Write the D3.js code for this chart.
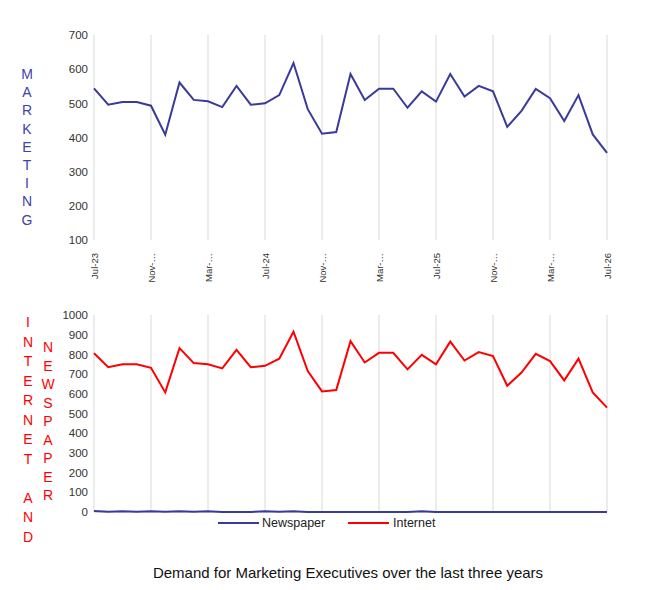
<!DOCTYPE html><html><head><meta charset="utf-8"><script src="https://cdn.jsdelivr.net/npm/d3@7"></script>
<style>body{margin:0;background:#fff;font-family:"Liberation Sans",Arial,sans-serif}</style></head><body><svg id="c" width="645" height="590"></svg>
<script>
const tickLabels=["Jul-23","Nov-…","Mar-…","Jul-24","Nov-…","Mar-…","Jul-25","Nov-…","Mar-…","Jul-26"];
const marketing=[544,496,504,504,493,408,561,510,506,489,551,496,500,524,618,483,411,416,586,510,543,543,487,535,505,586,520,551,535,431,478,542,515,448,524,409,355];
const internet=[806,735,750,750,732,607,832,756,750,729,823,735,742,778,915,715,612,619,867,759,808,808,724,798,750,865,769,812,792,641,708,803,766,668,778,607,530];
const newspaper=[5,1,4,1,4,1,4,1,4,0,0,0,4,1,4,0,0,0,0,0,0,0,0,4,0,0,0,0,0,0,0,0,0,0,0,0,0];
const svg=d3.select("#c");
const x=d3.scaleLinear().domain([0,36]).range([94,607]);
const y1=d3.scaleLinear().domain([100,700]).range([240,35]);
const y2=d3.scaleLinear().domain([0,1000]).range([512,315]);
const grid="#d9d9d9";
function panel(y,ticks,top,bot){
  svg.append("g").selectAll("line").data(d3.range(0,37,4)).join("line")
   .attr("x1",d=>x(d)).attr("x2",d=>x(d)).attr("y1",top).attr("y2",bot).attr("stroke",grid);
  svg.append("g").attr("transform","translate(88,0)").call(d3.axisLeft(y).tickValues(ticks).tickFormat(d3.format("d")).tickSize(0).tickPadding(0))
   .call(g=>{g.select(".domain").remove();g.selectAll("text").attr("font-size",11.5).attr("fill","#333").attr("font-family","Liberation Sans, Arial")});
}
panel(y1,d3.range(100,701,100),35,240);
panel(y2,d3.range(0,1001,100),315,512);
svg.append("line").attr("x1",94).attr("x2",607).attr("y1",512).attr("y2",512).attr("stroke",grid);
svg.append("g").selectAll("text").data(tickLabels).join("text")
 .attr("transform",(d,i)=>`translate(${x(i*4)+4},253) rotate(-90)`).attr("text-anchor","end")
 .attr("font-size",9.5).attr("fill","#333").text(d=>d);
const line=(y)=>d3.line().x((d,i)=>x(i)).y(d=>y(d));
svg.append("path").datum(marketing).attr("d",line(y1)).attr("fill","none").attr("stroke","#3a3a9a").attr("stroke-width",2);
svg.append("path").datum(internet).attr("d",line(y2)).attr("fill","none").attr("stroke","#ff0000").attr("stroke-width",2);
svg.append("path").datum(newspaper).attr("d",line(y2)).attr("fill","none").attr("stroke","#3a3a9a").attr("stroke-width",2);
function vert(str,xp,y0,dy,col){
  svg.append("g").selectAll("text").data(str.split("")).join("text").attr("x",xp).attr("y",(d,i)=>y0+i*dy)
   .attr("text-anchor","middle").attr("font-size",14).attr("fill",col).text(d=>d);
}
vert("MARKETING",27,79,18.2,"#4040b0");
vert("INTERNET AND",28,327,19.5,"#ff0000");
vert("NEWSPAPER",48,352,18.5,"#ff0000");
const lg=svg.append("g");
lg.append("line").attr("x1",218).attr("x2",259).attr("y1",523).attr("y2",523).attr("stroke","#3a3a9a").attr("stroke-width",2);
lg.append("text").attr("x",262).attr("y",527).attr("font-size",12.5).attr("fill","#222").text("Newspaper");
lg.append("line").attr("x1",348).attr("x2",389).attr("y1",523).attr("y2",523).attr("stroke","#ff0000").attr("stroke-width",2);
lg.append("text").attr("x",393).attr("y",527).attr("font-size",12.5).attr("fill","#222").text("Internet");
svg.append("text").attr("x",348).attr("y",578).attr("text-anchor","middle").attr("font-size",15).attr("fill","#111").text("Demand for Marketing Executives over the last three years");
</script></body></html>
